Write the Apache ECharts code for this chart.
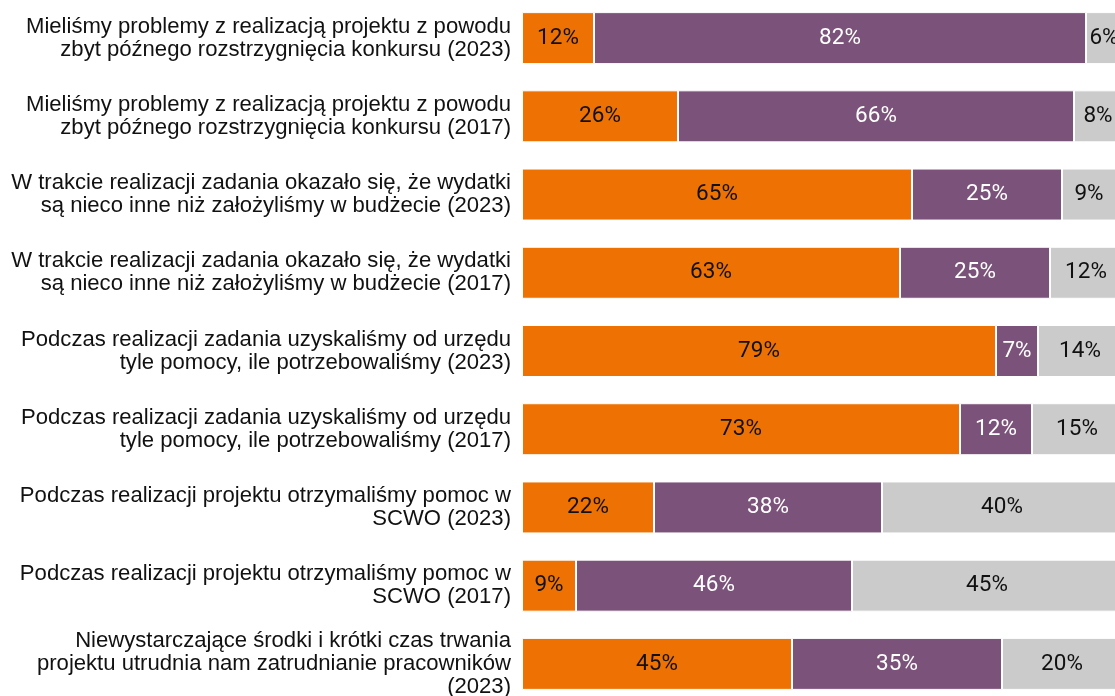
<!DOCTYPE html>
<html>
<head>
<meta charset="utf-8">
<script src="https://cdn.jsdelivr.net/npm/echarts@6/dist/echarts.min.js"></script>
<style>
  html, body { margin: 0; padding: 0; background: #fff; }
  #chart { width: 1115px; height: 696px; }
</style>
</head>
<body>
<div id="chart"></div>
<script>
// kategorie (od góry)
const categories = [
  'Mieliśmy problemy z realizacją projektu z powodu\nzbyt późnego rozstrzygnięcia konkursu (2023)',
  'Mieliśmy problemy z realizacją projektu z powodu\nzbyt późnego rozstrzygnięcia konkursu (2017)',
  'W trakcie realizacji zadania okazało się, że wydatki\nsą nieco inne niż założyliśmy w budżecie (2023)',
  'W trakcie realizacji zadania okazało się, że wydatki\nsą nieco inne niż założyliśmy w budżecie (2017)',
  'Podczas realizacji zadania uzyskaliśmy od urzędu\ntyle pomocy, ile potrzebowaliśmy (2023)',
  'Podczas realizacji zadania uzyskaliśmy od urzędu\ntyle pomocy, ile potrzebowaliśmy (2017)',
  'Podczas realizacji projektu otrzymaliśmy pomoc w\nSCWO (2023)',
  'Podczas realizacji projektu otrzymaliśmy pomoc w\nSCWO (2017)',
  'Niewystarczające środki i krótki czas trwania\nprojektu utrudnia nam zatrudnianie pracowników\n(2023)'
];
const orangeValues = [12, 26, 65, 63, 79, 73, 22, 9, 45];
const purpleValues = [82, 66, 25, 25, 7, 12, 38, 46, 35];
const grayValues = [6, 8, 9, 12, 14, 15, 40, 45, 20];

const colors = ['#ED7203', '#7B5279', '#CBCBCB'];
const labelColors = ['#111', '#fff', '#111'];

function makeSeries(name, data, i) {
  return {
    name: name,
    type: 'bar',
    stack: 'total',
    barWidth: 52,
    data: data,
    itemStyle: { color: colors[i], borderColor: '#fff', borderWidth: 1 },
    label: {
      show: true,
      position: 'inside',
      formatter: '{c}%',
      color: labelColors[i],
      fontFamily: 'Roboto',
      fontSize: 22.5
    },
    emphasis: { disabled: true }
  };
}

const chart = echarts.init(document.getElementById('chart'));
chart.setOption({
  animation: false,
  grid: {
    left: 522,
    top: -1,
    width: 600,
    height: 704,
    outerBoundsMode: 'none'
  },
  xAxis: {
    type: 'value',
    min: 0,
    max: 100,
    show: false
  },
  yAxis: {
    type: 'category',
    data: categories,
    inverse: true,
    axisLine: { show: false },
    axisTick: { show: false },
    axisLabel: {
      margin: 11,
      color: '#111',
      fontFamily: 'Liberation Sans',
      fontSize: 22.1,
      lineHeight: 23,
      align: 'right'
    }
  },
  series: [
    makeSeries('Zgadzam się', orangeValues, 0),
    makeSeries('Nie zgadzam się', purpleValues, 1),
    makeSeries('Trudno powiedzieć', grayValues, 2)
  ]
});
</script>
</body>
</html>
